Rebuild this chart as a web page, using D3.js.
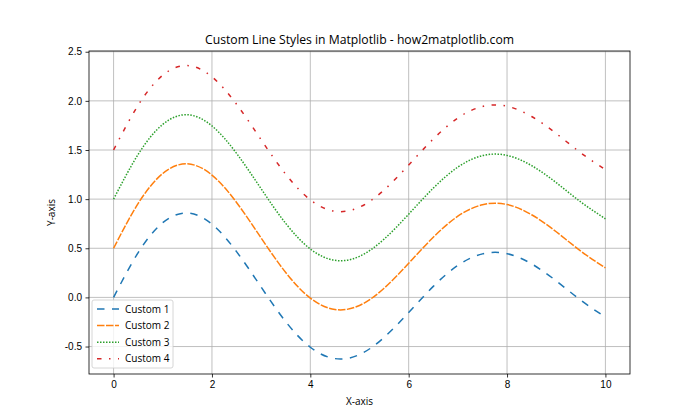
<!DOCTYPE html>
<html>
<head>
<meta charset="utf-8">
<script src="https://cdn.jsdelivr.net/npm/d3@7"></script>
<style>
body { margin: 0; background: #fff; }
svg { font-family: "Open Sans", "Noto Sans", sans-serif; }
</style>
</head>
<body>
<div id="chart"></div>
<script>
// values
var xs = [0, 0.5, 1, 1.5, 2, 2.5, 3, 3.5, 4, 4.5, 5, 5.5, 6, 6.5, 7, 7.5, 8, 8.5, 9, 9.5, 10];
var custom1 = [0.000, 0.456, 0.761, 0.859, 0.745, 0.466, 0.105, -0.247, -0.507, -0.623, -0.582, -0.407, -0.153, 0.112, 0.326, 0.443, 0.445, 0.341, 0.168, -0.029, -0.200];
var custom2 = [0.500, 0.956, 1.261, 1.359, 1.245, 0.966, 0.605, 0.253, -0.007, -0.123, -0.082, 0.093, 0.347, 0.612, 0.826, 0.943, 0.945, 0.841, 0.668, 0.471, 0.300];
var custom3 = [1.000, 1.456, 1.761, 1.859, 1.745, 1.466, 1.105, 0.753, 0.493, 0.377, 0.418, 0.593, 0.847, 1.112, 1.326, 1.443, 1.445, 1.341, 1.168, 0.971, 0.800];
var custom4 = [1.500, 1.956, 2.261, 2.359, 2.245, 1.966, 1.605, 1.253, 0.993, 0.877, 0.918, 1.093, 1.347, 1.612, 1.826, 1.943, 1.945, 1.841, 1.668, 1.471, 1.300];
var seriesNames = ["Custom 1", "Custom 2", "Custom 3", "Custom 4"];
var xTicks = [0, 2, 4, 6, 8, 10];
var yTicks = [-0.5, 0.0, 0.5, 1.0, 1.5, 2.0, 2.5];

var colors = ["#1f77b4", "#ff7f0e", "#2ca02c", "#d62728"];
var dashes = ["7.5,7.5", "7.5,1.5", "1.5,1.5", "4.5,7.5,1.5,7.5"];
var allSeries = [custom1, custom2, custom3, custom4];

var W = 700, H = 420;
var margin = {top: 51, right: 70, bottom: 46, left: 89},
    width = W - margin.left - margin.right,
    height = H - margin.top - margin.bottom;

var svg = d3.select("#chart").append("svg")
    .attr("width", W)
    .attr("height", H);

var g = svg.append("g")
    .attr("transform", "translate(" + margin.left + "," + margin.top + ")");

var x = d3.scaleLinear().domain([-0.5, 10.5]).range([0, width]);
var y = d3.scaleLinear().domain([-0.7795, 2.5075]).range([height, 0]);

// grid
g.append("g").selectAll("line").data(xTicks).enter().append("line")
    .attr("x1", function(d) { return x(d); }).attr("x2", function(d) { return x(d); })
    .attr("y1", 0).attr("y2", height)
    .attr("stroke", "#b0b0b0").attr("stroke-width", 0.8);
g.append("g").selectAll("line").data(yTicks).enter().append("line")
    .attr("y1", function(d) { return y(d); }).attr("y2", function(d) { return y(d); })
    .attr("x1", 0).attr("x2", width)
    .attr("stroke", "#b0b0b0").attr("stroke-width", 0.8);

var line = d3.line()
    .x(function(d, i) { return x(xs[i]); })
    .y(function(d) { return y(d); })
    .curve(d3.curveNatural);

allSeries.forEach(function(s, i) {
  g.append("path")
      .datum(s)
      .attr("d", line)
      .attr("fill", "none")
      .attr("stroke", colors[i])
      .attr("stroke-width", 1.5)
      .attr("stroke-dasharray", dashes[i]);
});

// axes
var xAxis = d3.axisBottom(x).tickValues(xTicks).tickSize(3.5).tickPadding(3.5)
    .tickFormat(d3.format("d"));
var yAxis = d3.axisLeft(y).tickValues(yTicks).tickSize(3.5).tickPadding(3.5)
    .tickFormat(function(d) { return d < 0 ? "-" + d3.format(".1f")(-d) : d3.format(".1f")(d); });

var gx = g.append("g").attr("transform", "translate(0," + height + ")").call(xAxis);
var gy = g.append("g").call(yAxis);
[gx, gy].forEach(function(a) {
  a.select(".domain").remove();
  a.selectAll("line").attr("stroke", "#000").attr("stroke-width", 0.8);
  a.selectAll("text").attr("fill", "#000").style("font-size", "10px");
});

g.append("rect")
    .attr("width", width).attr("height", height)
    .attr("fill", "none").attr("stroke", "#000").attr("stroke-width", 0.8);

// labels
svg.append("text")
    .attr("x", margin.left + width / 2).attr("y", 44)
    .attr("text-anchor", "middle").style("font-size", "12.2px")
    .text("Custom Line Styles in Matplotlib - how2matplotlib.com");
svg.append("text")
    .attr("x", margin.left + width / 2).attr("y", 405)
    .attr("text-anchor", "middle").style("font-size", "10px")
    .text("X-axis");
svg.append("text")
    .attr("transform", "translate(55," + (margin.top + height / 2) + ") rotate(-90)")
    .attr("text-anchor", "middle").style("font-size", "10px")
    .text("Y-axis");

// legend
var legend = g.append("g").attr("transform", "translate(3," + (height - 74) + ")");
legend.append("rect")
    .attr("width", 81).attr("height", 68).attr("rx", 2)
    .attr("fill", "#fff").attr("fill-opacity", 0.8)
    .attr("stroke", "#cccccc").attr("stroke-width", 0.8);
var item = legend.selectAll(".item").data(seriesNames).enter().append("g")
    .attr("class", "item")
    .attr("transform", function(d, i) { return "translate(0," + (9 + i * 16.6) + ")"; });
item.append("line")
    .attr("x1", 5).attr("x2", 27).attr("y1", 0).attr("y2", 0)
    .attr("stroke", function(d, i) { return colors[i]; })
    .attr("stroke-width", 1.5)
    .attr("stroke-dasharray", function(d, i) { return dashes[i]; });
item.append("text")
    .attr("x", 33).attr("y", 0).attr("dy", "0.35em")
    .style("font-size", "10px")
    .text(function(d) { return d; });
</script>
</body>
</html>
